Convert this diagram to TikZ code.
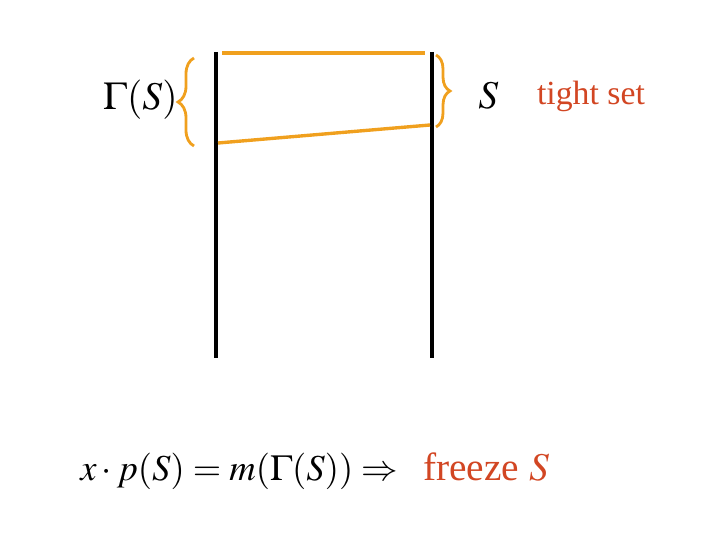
\documentclass[tikz,border=0pt]{standalone}
\usepackage{mathptmx}
\usepackage{fontspec}
\setmainfont{Liberation Serif}
\usetikzlibrary{decorations.pathreplacing}
\definecolor{braceorange}{RGB}{240,160,30}
\definecolor{tightred}{RGB}{210,70,35}
\tikzset{
  side/.style={line width=3.5pt,black},
  edge/.style={line width=2.4pt,braceorange},
  bracket/.style={braceorange,line width=2pt,decorate,decoration={brace,amplitude=#1}},
  bigtext/.style={inner sep=0pt,anchor=base,font=\fontsize{28}{34}\selectfont},
}
\begin{document}
\begin{tikzpicture}
        \useasboundingbox (0,0) rectangle (18,13.5);
        % the two sides
        \coordinate (lt) at (5.4,12.2);
        \coordinate (lb) at (5.4,4.55);
        \coordinate (rt) at (10.8,12.2);
        \coordinate (rb) at (10.8,4.55);
        \draw [side] (lt)--(lb);
        \draw [side] (rt)--(rb);
        % edges between them
        \coordinate (e1) at (5.55,12.175);
        \coordinate (e2) at (10.625,12.175);
        \coordinate (e3) at (5.45,9.925);
        \coordinate (e4) at (10.75,10.375);
        \draw [edge] (e1)--(e2);
        \draw [edge] (e3)--(e4);
        % braces
        \coordinate (b1) at (4.85,9.85);
        \coordinate (b2) at (4.85,12.05);
        \coordinate (b3) at (10.9,12.125);
        \coordinate (b4) at (10.9,10.325);
        \draw [bracket=0.4cm] (b1)--(b2);
        \draw [bracket=0.35cm] (b3)--(b4);
        % labels
        \node [bigtext,anchor=base east] (gs) at (4.45,10.75) {$\Gamma(S)$};
        \node [bigtext,anchor=base west] (s) at (11.95,10.775) {$S$};
        \node [bigtext,anchor=base west,font=\fontsize{24}{30}\selectfont,text=tightred] (ts) at (13.42,10.875) {tight set};
        \node [bigtext,anchor=base west,font=\fontsize{26}{32}\selectfont] (eq) at (2.0,1.5) {$x\cdot p(S)=m(\Gamma(S))\Rightarrow$};
        \node [bigtext,anchor=base west,text=tightred] (fr) at (10.575,1.5) {freeze $S$};
\end{tikzpicture}
\end{document}
